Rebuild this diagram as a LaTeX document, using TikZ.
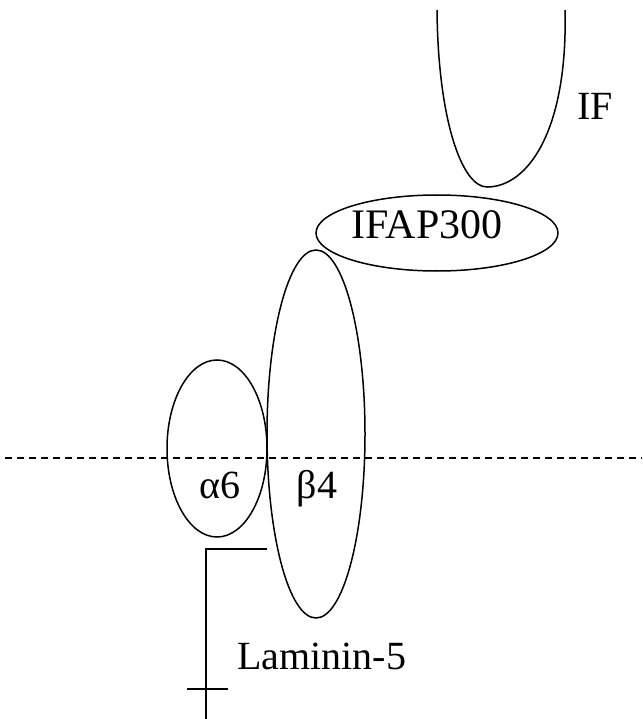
\documentclass[tikz,border=0pt]{standalone}
\usepackage{fontspec}
\setmainfont{Liberation Serif}
\usetikzlibrary{shapes.geometric}
\begin{document}
\begin{tikzpicture}[x=1pt,y=-1pt,
  outline/.style={draw=black,line width=1.5pt},
  blob/.style={outline,ellipse,inner sep=0pt,outer sep=0pt},
  lbl/.style={font=\fontsize{40}{40}\selectfont,inner sep=0pt,anchor=base}]
\useasboundingbox (0,0) rectangle (642,719);
% membrane
\coordinate (mL) at (5,458);
\coordinate (mR) at (642,458);
\draw[line width=1.2pt,dash pattern=on 7pt off 5pt] (mL) -- (mR);
% IF
\coordinate (ifL) at (437,10);
\coordinate (ifB) at (487,187);
\coordinate (ifR) at (565,10);
\draw[outline] (ifL) .. controls (438,120) and (462,187) .. (ifB)
  .. controls (528,187) and (568,130) .. (ifR);
\node[lbl,anchor=base west] (iflab) at (577,120) {IF};
% IFAP300
\node[blob,minimum width=242pt,minimum height=76pt] (ifap) at (437,233) {};
\node[lbl,font=\fontsize{42}{42}\selectfont] (ifaplab) at (427,238) {IFAP300};
% beta4
\node[blob,minimum width=98pt,minimum height=368pt] (beta) at (316,434) {};
\node[lbl] (betalab) at (317,498) {β4};
% alpha6
\node[blob,minimum width=100pt,minimum height=177pt] (alpha) at (217,448.5) {};
\node[lbl] (alphalab) at (220,498) {α6};
% Laminin-5
\coordinate (lamE) at (267,549);
\coordinate (lamC) at (206,549);
\coordinate (lamB) at (206,719);
\coordinate (crL) at (187,689);
\coordinate (crR) at (228,689);
\draw[outline] (lamE) -- (lamC) -- (lamB);
\draw[outline] (crL) -- (crR);
\node[lbl,anchor=base west] (lamlab) at (237,669) {Laminin-5};
\end{tikzpicture}
\end{document}
